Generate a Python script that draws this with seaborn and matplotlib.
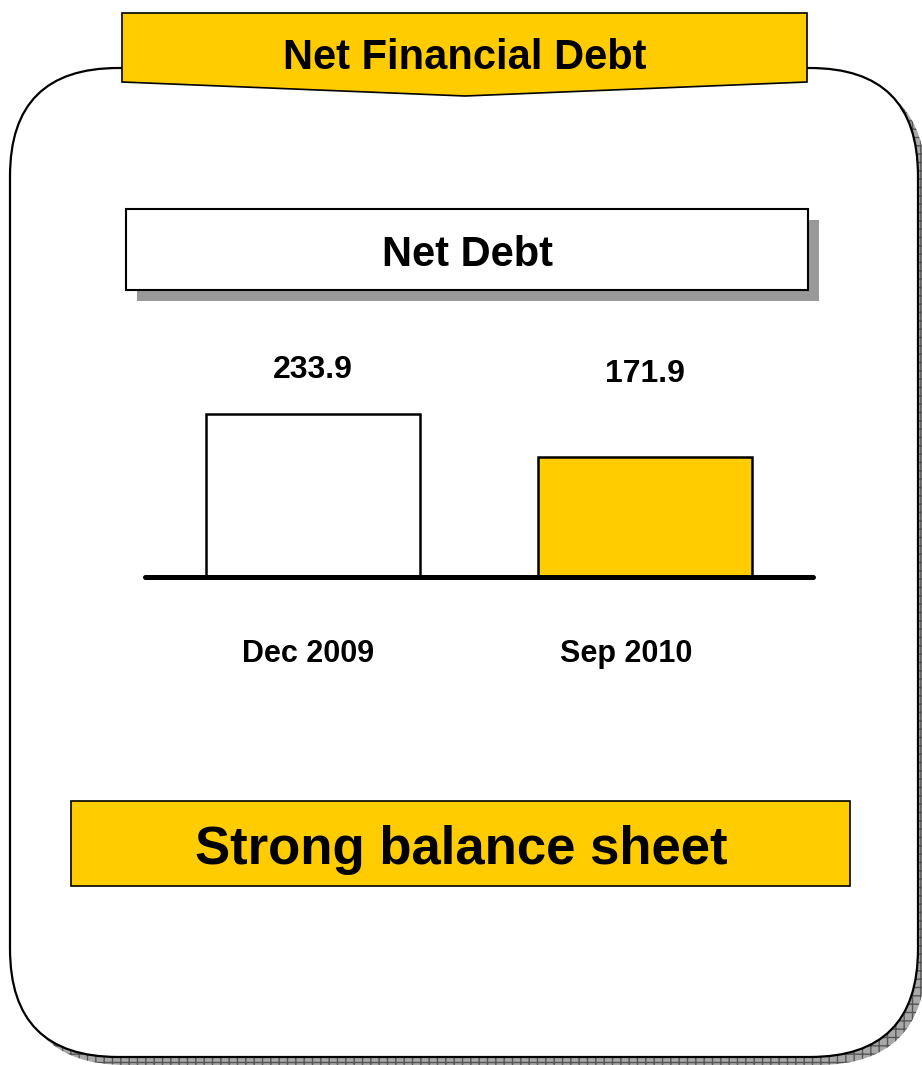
import matplotlib
matplotlib.use("Agg")
import matplotlib.pyplot as plt
from matplotlib.patches import FancyBboxPatch, Rectangle, Polygon
import seaborn as sns
import pandas as pd

# ---- data ----
periods = ["Dec 2009", "Sep 2010"]
net_debt = [233.9, 171.9]
bar_colors = ["#FFFFFF", "#FFCC00"]
banner_title = "Net Financial Debt"
chart_title = "Net Debt"
footer_text = "Strong balance sheet"

YELLOW = "#FFCC00"

sns.set_theme(style="white")
plt.rcParams["font.family"] = ["Liberation Sans", "DejaVu Sans"]
plt.rcParams["hatch.linewidth"] = 1.0

W, H = 922, 1065
fig = plt.figure(figsize=(W / 100, H / 100), dpi=100)
fig.patch.set_facecolor("white")

# background axes in pixel coordinates (y downward)
bg = fig.add_axes([0, 0, 1, 1])
bg.set_xlim(0, W)
bg.set_ylim(H, 0)
bg.set_axis_off()

# rounded panel shadow (hatched)
shadow = FancyBboxPatch((18, 76), 908, 989, boxstyle="round,pad=0,rounding_size=108",
                        facecolor="#a8a8a8", edgecolor="#555555", hatch="++",
                        linewidth=0.0, zorder=1)
bg.add_patch(shadow)
panel = FancyBboxPatch((10, 68), 908, 989, boxstyle="round,pad=0,rounding_size=108",
                       facecolor="white", edgecolor="black", linewidth=1.6, zorder=2)
bg.add_patch(panel)

# top banner
banner = Polygon([(122, 13), (807, 13), (807, 82), (465, 96), (122, 82)], closed=True,
                 facecolor=YELLOW, edgecolor="black", linewidth=1.2, zorder=5)
bg.add_patch(banner)
bg.text(465, 58, banner_title, ha="center", va="center", fontsize=30,
        fontweight="bold", color="black", zorder=6)

# "Net Debt" title box with shadow
bg.add_patch(Rectangle((137, 220), 682, 81, facecolor="#999999", edgecolor="none", zorder=3))
bg.add_patch(Rectangle((126, 209), 682, 81, facecolor="white", edgecolor="black",
                       linewidth=1.5, zorder=4))
bg.text(467, 255, chart_title, ha="center", va="center", fontsize=30,
        fontweight="bold", color="black", zorder=5)

# footer box
bg.add_patch(Rectangle((71, 801), 779, 85, facecolor=YELLOW, edgecolor="black",
                       linewidth=1.2, zorder=4))
bg.text(461, 850, footer_text, ha="center", va="center", fontsize=38,
        fontweight="bold", color="black", zorder=5)

# ---- bar chart ----
x0, x1 = 145, 813
ybase, ytop = 577, 330
ax = fig.add_axes([x0 / W, 1 - ybase / H, (x1 - x0) / W, (ybase - ytop) / H])
ax.patch.set_alpha(0)

df = pd.DataFrame({"period": periods, "value": net_debt})
sns.barplot(data=df, x="period", y="value", hue="period", palette=bar_colors,
            saturation=1, width=0.645, edgecolor="black", linewidth=1.8,
            legend=False, ax=ax, zorder=3)
ax.set_xlim(-0.506, 1.506)
ax.set_ylim(0, (ybase - ytop) / 0.6969)
ax.set_axis_off()
ax.axhline(0, color="black", linewidth=3.6, solid_capstyle="round", clip_on=False, zorder=4)

label_y = [297, 292]
cat_y = -110
cat_dx = [-0.015, -0.057]
for i, (p, v) in enumerate(zip(periods, net_debt)):
    ax.text(i, label_y[i], f"{v:.1f}", ha="center", va="center", fontsize=23,
            fontweight="bold", color="black", clip_on=False)
    ax.text(i + cat_dx[i], cat_y, p, ha="center", va="center", fontsize=22,
            fontweight="bold", color="black", clip_on=False)

fig.savefig("out.png", dpi=100, facecolor="white")
